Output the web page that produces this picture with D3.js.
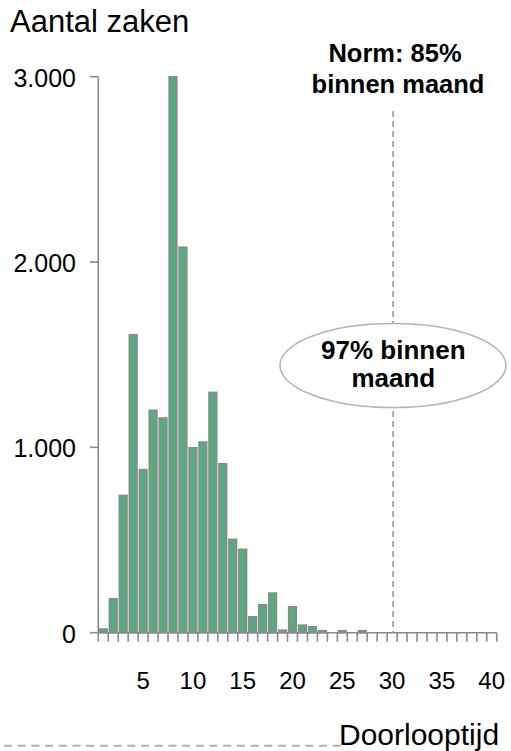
<!DOCTYPE html>
<html><head><meta charset="utf-8">
<script src="https://cdn.jsdelivr.net/npm/d3@7"></script>
<style>body{margin:0;background:#fff}svg{display:block;font-family:"Liberation Sans",Arial,sans-serif}</style>
</head><body>
<script>
const categories = d3.range(1, 41);
const values = [20,183,741,1608,880,1200,1159,3000,2080,998,1029,1297,912,504,450,86,151,214,14,140,41,32,11,0,11,0,11,0,0,0,0,0,0,0,0,0,0,0,0,0];
const xTickLabels = [5,10,15,20,25,30,35,40];
const yTicks = [0,1000,2000,3000];
const normDay = 30;

const W = 511, H = 751;
const svg = d3.select("body").append("svg").attr("width", W).attr("height", H);
const x = d3.scaleBand().domain(categories).range([98.3, 496.7]).paddingInner(0.22).paddingOuter(0.11);
const xb = d3.scaleBand().domain(categories).range([98.3, 496.7]);
const y = d3.scaleLinear().domain([0, 3000]).range([632.7, 76.7]);
const fmt = v => d3.format(",")(v).replace(/,/g, ".");
const gray = "#8a8a8a";

// y axis
svg.append("line").attr("x1", 98.3).attr("x2", 98.3).attr("y1", y(3000)).attr("y2", y(0)).attr("stroke", gray).attr("stroke-width", 1.6);
yTicks.forEach(t => {
  svg.append("line").attr("x1", 90).attr("x2", 98.3).attr("y1", y(t)).attr("y2", y(t)).attr("stroke", gray).attr("stroke-width", 1.6);
  svg.append("text").attr("x", 76).attr("y", y(t) + 10).attr("text-anchor", "end").attr("font-size", 25).attr("fill", "#000").text(fmt(t));
});

// bars
svg.selectAll("rect.bar").data(categories).join("rect").attr("class", "bar")
  .attr("x", d => x(d)).attr("width", x.bandwidth())
  .attr("y", (d, i) => y(values[i])).attr("height", (d, i) => y(0) - y(values[i]))
  .attr("fill", "#5aaa80").attr("stroke", gray).attr("stroke-width", 1.5)
  .attr("display", (d, i) => values[i] > 0 ? null : "none");

// x axis
svg.append("line").attr("x1", 98.3).attr("x2", 496.7).attr("y1", y(0)).attr("y2", y(0)).attr("stroke", gray).attr("stroke-width", 1.6);
d3.range(41).forEach(k => {
  const xx = 98.3 + k * xb.bandwidth();
  svg.append("line").attr("x1", xx).attr("x2", xx).attr("y1", y(0)).attr("y2", y(0) + 9).attr("stroke", gray).attr("stroke-width", 1.6);
});
xTickLabels.forEach(t => {
  svg.append("text").attr("x", xb(t) + xb.bandwidth() / 2).attr("y", 688.5).attr("text-anchor", "middle").attr("font-size", 24).text(t);
});

// norm line
const nx = xb(normDay) + xb.bandwidth() / 2 + 1;
svg.append("line").attr("x1", nx).attr("x2", nx).attr("y1", 111).attr("y2", y(0)).attr("stroke", gray).attr("stroke-width", 1.4).attr("stroke-dasharray", "6,4");

// labels
svg.append("text").attr("x", 10).attr("y", 31.7).attr("font-size", 31).text("Aantal zaken");
svg.append("text").attr("x", 395).attr("y", 62.3).attr("text-anchor", "middle").attr("font-size", 25.5).attr("font-weight", "bold").text("Norm: 85%");
svg.append("text").attr("x", 398).attr("y", 93.3).attr("text-anchor", "middle").attr("font-size", 25.5).attr("font-weight", "bold").text("binnen maand");

svg.append("ellipse").attr("cx", 393).attr("cy", 365.5).attr("rx", 113).attr("ry", 42).attr("fill", "#fff").attr("stroke", "#b5b5b5").attr("stroke-width", 1.6);
svg.append("text").attr("x", 393.3).attr("y", 359.3).attr("text-anchor", "middle").attr("font-size", 26).attr("font-weight", "bold").text("97% binnen");
svg.append("text").attr("x", 393.3).attr("y", 386.7).attr("text-anchor", "middle").attr("font-size", 26).attr("font-weight", "bold").text("maand");

// bottom dashed line + x title
svg.append("line").attr("x1", 4).attr("x2", 345).attr("y1", 745.7).attr("y2", 745.7).attr("stroke", "#b0b0b0").attr("stroke-width", 2).attr("stroke-dasharray", "8,5.7");
svg.append("text").attr("x", 339).attr("y", 745).attr("font-size", 30).text("Doorlooptijd");
</script>
</body></html>
